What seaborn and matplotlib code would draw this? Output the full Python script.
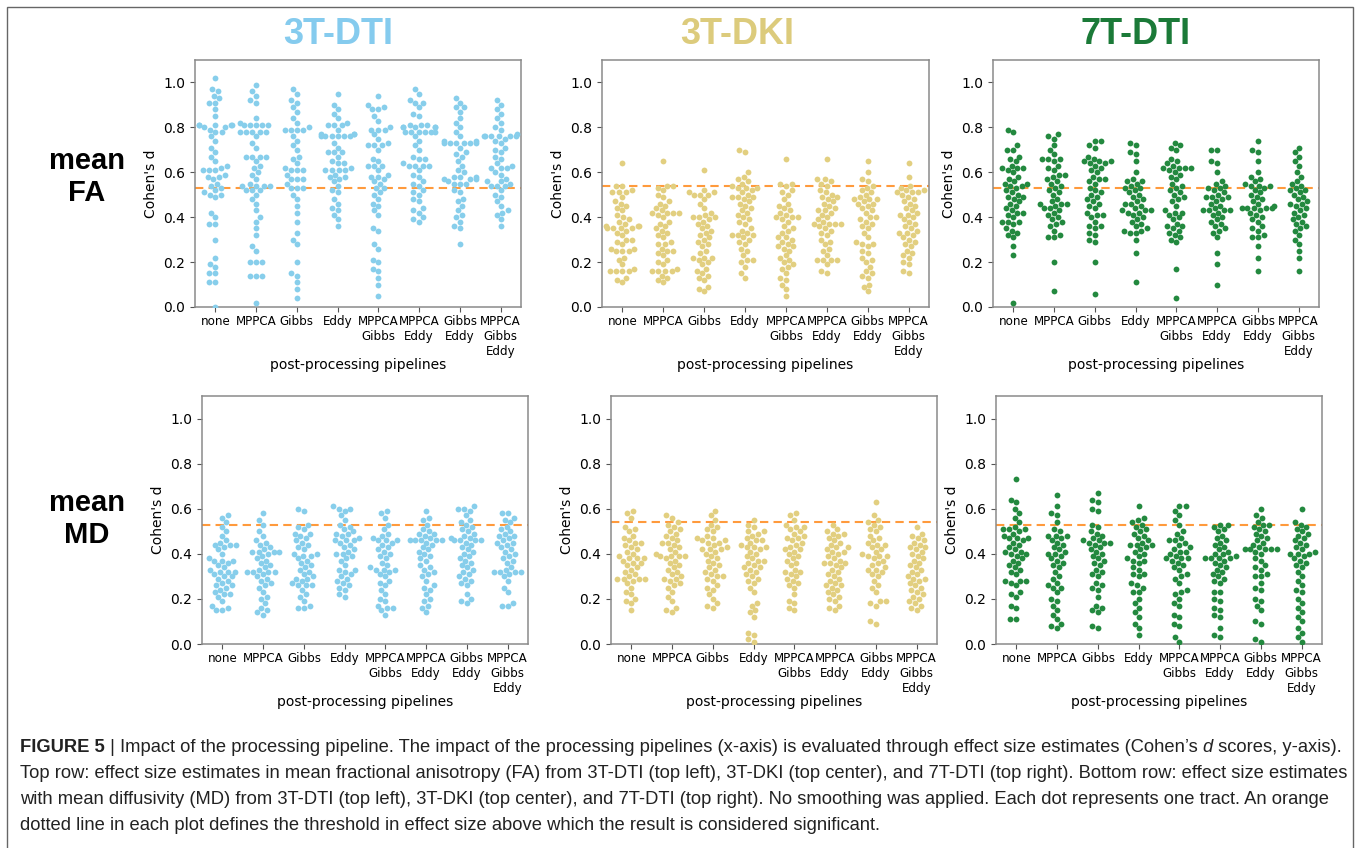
import pandas as pd
import matplotlib
matplotlib.use("Agg")
import matplotlib.pyplot as plt
import matplotlib.font_manager as fm
from matplotlib.transforms import IdentityTransform
from matplotlib.patches import Rectangle
import seaborn as sns

# pipelines (x categories)
pipelines = ["none", "MPPCA", "Gibbs", "Eddy", "MPPCA\nGibbs", "MPPCA\nEddy",
             "Gibbs\nEddy", "MPPCA\nGibbs\nEddy"]

# Cohen's d x 100, one list per pipeline
fa_dti3 = [
    [102,97,96,94,93,91,91,88,85,81,81,81,81,81,80,80,79,78,78,76,74,71,69,67,65,63,62,61,61,61,59,58,58,57,55,54,53,52,51,50,50,49,42,40,37,37,30,22,19,18,15,15,11,11,0],
    [99,96,94,92,91,84,82,81,81,81,81,81,78,78,78,78,78,76,73,71,67,67,67,67,65,63,62,60,59,57,55,54,54,54,54,52,52,52,50,48,46,43,40,38,35,32,27,25,20,20,20,14,14,14,2],
    [97,95,92,91,89,87,84,82,80,79,79,79,79,76,74,72,70,67,66,64,62,61,61,61,59,57,57,57,55,53,53,53,50,48,45,42,38,33,30,28,20,15,14,11,8,4],
    [95,90,88,86,84,82,81,81,81,79,77,77,77,76,76,76,76,76,76,73,71,69,69,69,67,65,64,64,62,61,61,61,61,59,58,58,57,56,54,52,51,48,46,44,43,41,39,36],
    [94,90,89,88,88,85,83,80,79,79,79,77,75,73,72,72,72,70,66,65,63,63,63,61,59,58,58,57,56,55,53,53,51,50,48,46,45,43,41,35,34,28,26,21,20,17,16,13,10,5],
    [97,95,92,91,91,89,86,85,81,81,81,80,80,80,80,80,78,78,78,78,78,78,76,74,72,70,67,66,66,64,63,63,63,63,61,59,58,56,55,54,52,51,50,48,47,44,43,42,40,39,38],
    [93,91,89,89,87,84,82,80,78,76,74,74,73,73,73,73,73,73,71,69,68,67,65,63,61,60,58,58,58,57,57,57,56,55,55,55,52,51,48,47,45,43,41,40,38,36,35,28],
    [92,90,88,86,84,82,80,79,77,76,76,76,76,76,76,75,74,73,71,70,69,67,66,64,63,62,62,62,60,59,57,56,56,55,54,54,54,52,50,49,47,45,43,42,41,39,36],
]
fa_dki3 = [
    [64,54,54,52,51,51,51,49,47,46,45,44,43,41,40,39,38,37,36,36,36,35,35,35,35,34,33,32,30,30,29,28,26,26,25,25,25,22,21,19,17,16,16,16,16,13,12,11],
    [65,54,54,53,52,50,49,47,46,45,44,43,42,42,42,42,41,40,38,37,36,35,34,33,32,31,29,28,28,26,25,25,24,23,21,20,19,17,16,16,16,16,14,13,12,11],
    [61,52,51,51,50,50,50,48,46,44,42,41,40,40,40,39,38,37,36,35,34,33,32,31,30,29,28,27,25,24,22,22,22,21,20,19,17,16,15,14,13,12,9,8,7],
    [70,69,60,58,57,56,55,54,53,53,53,52,51,50,49,49,49,48,47,46,45,44,43,42,41,40,39,38,37,35,34,33,32,32,32,31,30,29,28,26,25,23,21,21,20,18,15,13],
    [66,55,55,54,52,51,50,48,46,45,44,43,42,41,40,40,40,39,38,36,35,34,33,31,31,30,29,28,27,27,26,25,23,22,21,20,19,18,17,15,13,12,10,8,5],
    [66,57,57,56,55,54,52,51,50,49,49,48,47,46,45,44,43,43,42,41,40,39,38,37,37,37,37,36,35,34,33,32,30,29,28,26,25,23,21,21,21,21,19,16,15],
    [65,60,57,56,54,53,52,51,50,49,48,48,48,47,46,46,45,44,43,42,40,40,39,38,37,36,35,33,31,29,28,28,27,25,24,22,21,20,18,16,15,14,13,10,9,7],
    [64,58,54,53,52,52,51,51,51,50,49,48,47,46,45,44,43,42,41,41,40,39,38,37,36,35,34,33,33,32,31,30,29,28,27,25,24,23,22,20,19,16,15],
]
fa_dti7 = [
    [79,78,72,70,70,67,66,65,63,62,62,62,61,60,58,57,56,55,55,54,54,53,52,51,50,49,49,48,47,46,45,44,43,42,42,41,40,38,38,38,37,35,34,33,32,31,27,23,2],
    [77,76,75,72,70,68,66,66,66,65,63,62,61,59,59,58,57,56,55,54,53,52,51,50,48,47,46,46,46,45,44,44,43,42,41,40,39,38,37,36,34,32,31,31,20,7],
    [74,74,72,71,67,66,65,65,65,64,64,63,62,61,60,58,57,57,56,55,53,52,51,50,49,48,47,46,45,44,42,41,41,40,38,36,36,35,33,32,30,29,20,6],
    [73,72,69,68,65,60,57,56,56,55,54,53,53,52,51,50,49,48,47,46,46,45,44,43,43,43,42,42,41,40,39,38,37,36,35,34,34,33,33,30,24,11],
    [73,72,71,70,66,65,64,63,62,62,62,62,61,60,59,58,57,55,54,53,52,51,50,49,48,47,45,43,42,42,41,40,39,37,36,36,35,34,33,32,31,30,29,17,4],
    [70,70,65,64,60,56,55,54,53,53,52,51,50,49,49,49,48,47,46,45,44,43,43,43,43,42,41,40,39,38,37,36,35,34,33,31,24,19,10],
    [74,70,69,65,60,58,57,56,55,54,54,54,53,52,51,50,49,48,47,46,45,44,44,44,44,44,43,42,41,40,39,38,36,35,34,32,31,31,27,22,16],
    [71,69,67,65,63,60,58,56,55,54,53,52,52,51,50,49,48,47,46,46,45,44,43,42,41,40,39,38,37,36,35,34,32,30,28,25,22,16],
]
md_dti3 = [
    [57,56,54,52,50,48,46,45,44,44,44,43,42,40,38,37,37,37,36,35,34,33,32,32,32,31,30,30,29,28,27,26,26,25,24,23,22,22,21,19,17,16,15,15],
    [58,55,53,50,48,46,45,44,43,42,41,41,41,41,40,39,38,37,36,35,34,33,32,32,32,32,31,30,29,28,27,26,25,23,21,20,18,16,15,14,13],
    [60,59,53,52,51,49,49,48,47,46,45,44,43,42,40,40,39,39,38,37,36,35,34,33,32,31,30,29,29,28,27,26,26,26,24,22,21,19,17,16,16],
    [61,60,60,59,57,55,53,52,51,50,49,49,48,47,46,46,46,45,44,43,42,41,40,40,39,38,37,35,33,33,32,31,30,29,28,27,26,25,24,22,21],
    [59,58,56,53,51,49,48,47,46,46,46,45,44,43,42,41,40,39,38,36,35,34,33,33,33,32,31,30,28,27,26,24,22,20,19,17,16,16,15,13],
    [59,56,55,53,51,50,49,49,48,47,46,46,46,46,46,45,44,43,42,41,40,39,38,37,35,34,33,32,31,30,28,26,25,24,22,20,19,17,16,14],
    [61,60,60,59,57,55,54,53,52,51,50,49,48,47,47,46,46,46,46,45,44,43,42,41,40,39,38,37,36,35,34,33,32,31,30,29,28,27,26,22,20,19,18],
    [58,58,56,55,54,52,51,50,49,48,48,47,46,45,45,44,43,42,41,40,39,38,37,36,34,33,32,32,32,32,31,30,28,25,23,18,17,17],
]
md_dki3 = [
    [59,58,56,52,51,50,48,47,46,45,45,44,43,42,41,40,39,38,38,38,37,36,36,35,34,33,32,31,30,29,29,29,29,28,27,25,23,22,20,19,18,15],
    [57,56,54,53,52,51,50,49,48,47,46,45,45,44,43,42,41,40,39,39,39,39,38,37,36,35,34,33,32,31,30,29,29,28,27,26,25,23,21,19,16,15,14],
    [59,57,55,53,52,51,50,48,47,47,46,46,45,45,44,43,42,42,42,41,40,39,38,37,36,35,34,33,32,31,30,30,29,28,26,25,24,22,20,18,17,16],
    [55,53,52,50,50,49,48,47,46,46,45,44,43,43,43,42,41,40,39,38,37,37,36,35,34,34,33,32,31,30,29,28,27,25,23,18,17,15,14,12,5,4,2,1],
    [58,57,55,53,52,52,51,50,49,48,47,47,46,45,44,43,42,42,41,40,39,38,37,36,35,33,32,32,31,30,29,28,27,26,25,22,19,18,16,15],
    [53,51,50,49,49,48,47,46,45,44,43,43,42,41,41,40,39,38,37,36,36,36,35,34,33,32,31,30,29,28,27,26,26,25,24,23,22,21,20,19,17,16,15],
    [63,57,55,54,53,52,51,50,48,47,46,45,44,44,43,42,41,40,39,39,39,38,37,36,35,34,33,33,32,31,30,28,26,25,23,19,19,18,17,10,9],
    [52,49,48,47,46,45,44,43,43,42,41,40,39,38,37,36,35,34,33,32,31,30,29,29,28,27,26,25,24,23,22,21,20,19,18,17,16,15],
]
md_dti7 = [
    [73,64,63,60,58,56,54,52,51,51,51,50,49,48,47,47,47,46,45,44,43,42,41,41,40,40,39,38,37,36,35,34,33,32,31,28,28,28,27,26,23,22,21,17,16,11,11],
    [66,61,58,57,54,51,50,48,48,48,47,46,45,44,43,42,41,40,40,39,38,37,36,35,34,32,30,29,27,26,25,25,23,20,19,17,15,13,11,9,8,7],
    [67,64,63,60,59,53,52,50,49,48,47,46,46,45,45,45,44,43,42,41,40,39,38,37,36,35,33,32,31,30,27,26,25,24,21,17,16,15,14,8,7],
    [61,56,55,54,53,52,51,50,49,48,47,46,45,44,44,44,43,42,41,40,39,38,37,37,36,34,33,31,31,30,27,26,25,23,23,20,18,16,14,12,9,7,4],
    [61,61,59,57,55,53,50,49,47,46,46,45,44,43,42,41,41,40,39,38,38,38,37,36,35,34,33,31,30,29,27,24,23,22,20,18,17,13,12,9,8,3,1],
    [53,53,52,51,50,48,47,46,45,44,43,42,41,40,40,39,38,38,38,38,37,36,35,34,33,32,31,30,29,28,27,23,23,20,19,16,15,13,12,7,4,3],
    [60,57,56,54,53,53,52,51,50,49,48,47,46,45,44,43,42,42,42,42,42,41,40,38,37,35,34,33,31,30,30,27,25,24,20,19,17,15,10,9,2,1],
    [60,54,53,52,51,50,49,48,47,46,45,44,43,42,41,40,40,40,39,38,37,36,35,34,32,30,28,26,24,23,20,18,16,14,12,10,7,5,3,1],
]

# significance thresholds (orange dashed)
thr_top = [0.53, 0.54, 0.53]
thr_bottom = [0.53, 0.54, 0.53]

col_titles = ["3T-DTI", "3T-DKI", "7T-DTI"]
title_colors = ["#85cbee", "#dccb7c", "#1b7a38"]
dot_colors = ["#87ceeb", "#e2cf80", "#23893f"]
orange = "#ff9a3c"

names = {f.name for f in fm.fontManager.ttflist}
narrow = "Liberation Sans Narrow" if "Liberation Sans Narrow" in names else "Liberation Sans"

W, H = 1357, 848
fig = plt.figure(figsize=(W / 100, H / 100), dpi=100)


def box(x0, y0, x1, y1):
    return [x0 / W, 1 - y1 / H, (x1 - x0) / W, (y1 - y0) / H]


top_pos = [box(195, 60, 521, 307), box(602, 60, 929, 307), box(993, 60, 1319, 307)]
bot_pos = [box(202, 396, 528, 644), box(611, 396, 937, 644), box(996, 396, 1322, 644)]


def panel(pos, values, color, thr):
    ax = fig.add_axes(pos)
    rows = []
    for name, vals in zip(pipelines, values):
        for v in vals:
            rows.append((name, v / 100))
    df = pd.DataFrame(rows, columns=["pipeline", "d"])
    sns.swarmplot(data=df, x="pipeline", y="d", order=pipelines, color=color,
                  size=4.2, ax=ax, warn_thresh=1)
    ax.axhline(thr, color=orange, ls="--", lw=1.5, dashes=(4, 2.5))
    ax.set_ylim(0, 1.1)
    ax.set_xlim(-0.5, 7.5)
    ax.set_yticks([0, 0.2, 0.4, 0.6, 0.8, 1.0])
    ax.set_yticklabels(["0.0", "0.2", "0.4", "0.6", "0.8", "1.0"])
    ax.tick_params(axis="y", labelsize=10, length=3.5, color="#555555")
    ax.tick_params(axis="x", labelsize=8.6, length=3.5, color="#555555", pad=2)
    ax.set_ylabel("Cohen's d", fontsize=10)
    ax.set_xlabel("post-processing pipelines", fontsize=10, labelpad=0)
    for s in ax.spines.values():
        s.set_color("#8a8a8a")
        s.set_linewidth(1.1)
    return ax


for i, vals in enumerate([fa_dti3, fa_dki3, fa_dti7]):
    panel(top_pos[i], vals, dot_colors[i], thr_top[i])
for i, vals in enumerate([md_dti3, md_dki3, md_dti7]):
    panel(bot_pos[i], vals, dot_colors[i], thr_bottom[i])

# column titles
for x, t, c in zip([338, 737, 1136], col_titles, title_colors):
    fig.text(x / W, 1 - 34 / H, t, color=c, fontsize=26, fontweight="bold",
             family=narrow, ha="center", va="center")

# row labels
fig.text(87 / W, 1 - 177 / H, "mean\nFA", fontsize=21, fontweight="bold",
         family="Liberation Sans", ha="center", va="center", linespacing=1.15)
fig.text(87 / W, 1 - 519 / H, "mean\nMD", fontsize=21, fontweight="bold",
         family="Liberation Sans", ha="center", va="center", linespacing=1.15)

# outer frame
fig.add_artist(Rectangle((7 / W, -0.01), (1353 - 7) / W, 1.01 - 7 / H,
                         transform=fig.transFigure, fill=False,
                         edgecolor="#666666", lw=1.0))

# caption
cap_lines = [
    [("FIGURE 5", "bold", "normal"), (" | Impact of the processing pipeline. The impact of the processing pipelines (x-axis) "
      "is evaluated through effect size estimates (Cohen\u2019s ", "normal", "normal"),
     ("d", "normal", "italic"), (" scores, y-axis).", "normal", "normal")],
    [("Top row: effect size estimates in mean fractional anisotropy (FA) from 3T-DTI (top left), 3T-DKI (top center), "
      "and 7T-DTI (top right). Bottom row: effect size estimates", "normal", "normal")],
    [("with mean diffusivity (MD) from 3T-DTI (top left), 3T-DKI (top center), and 7T-DTI (top right). No smoothing was "
      "applied. Each dot represents one tract. An orange", "normal", "normal")],
    [("dotted line in each plot defines the threshold in effect size above which the result is considered significant.",
      "normal", "normal")],
]
cap_y = [748, 774, 800, 826]
renderer = fig.canvas.get_renderer()


def draw_line(parts, y, size):
    x = 20
    made = []
    for txt, wt, st in parts:
        t = fig.text(x, H - y, txt, transform=IdentityTransform(), fontsize=size,
                     fontweight=wt, fontstyle=st, family=narrow, color="#222222",
                     ha="left", va="center")
        made.append(t)
        x = t.get_window_extent(renderer).x1
    return made, x - 20


made, width = draw_line(cap_lines[0], cap_y[0], 12)
for t in made:
    t.remove()
cap_size = 12 * 1325 / width
for parts, y in zip(cap_lines, cap_y):
    draw_line(parts, y, cap_size)

fig.savefig("out.png", dpi=100)
